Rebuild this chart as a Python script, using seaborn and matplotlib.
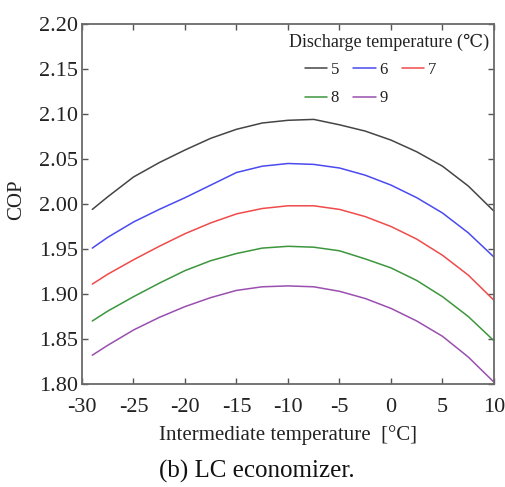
import numpy as np
import pandas as pd
import matplotlib
matplotlib.use("Agg")
import matplotlib.pyplot as plt
import seaborn as sns

# Data
x_vals = [-29, -27.5, -25, -22.5, -20, -17.5, -15, -12.5, -10, -7.5, -5, -2.5, 0, 2.5, 5, 7.5, 10]
cop_5 = [1.994, 2.008, 2.030, 2.046, 2.060, 2.073, 2.083, 2.090, 2.093, 2.094, 2.088, 2.081, 2.071, 2.058, 2.042, 2.020, 1.992]
cop_6 = [1.951, 1.963, 1.980, 1.994, 2.007, 2.021, 2.035, 2.042, 2.045, 2.044, 2.040, 2.032, 2.021, 2.007, 1.990, 1.968, 1.941]
cop_7 = [1.911, 1.922, 1.938, 1.953, 1.967, 1.979, 1.989, 1.995, 1.998, 1.998, 1.994, 1.986, 1.975, 1.961, 1.943, 1.921, 1.893]
cop_8 = [1.870, 1.881, 1.897, 1.912, 1.926, 1.937, 1.945, 1.951, 1.953, 1.952, 1.948, 1.939, 1.929, 1.915, 1.897, 1.875, 1.848]
cop_9 = [1.832, 1.843, 1.860, 1.874, 1.886, 1.896, 1.904, 1.908, 1.909, 1.908, 1.903, 1.895, 1.884, 1.870, 1.853, 1.830, 1.802]
series_labels = ["5", "6", "7", "8", "9"]
colors = ["#454545", "#4a4af0", "#f04a4a", "#3c963c", "#9a4fb0"]
x_ticks = [-30, -25, -20, -15, -10, -5, 0, 5, 10]
y_ticks = [1.80, 1.85, 1.90, 1.95, 2.00, 2.05, 2.10, 2.15, 2.20]

rows = []
for lab, ys in zip(series_labels, [cop_5, cop_6, cop_7, cop_8, cop_9]):
    for xv, yv in zip(x_vals, ys):
        rows.append({"T": xv, "COP": yv, "Discharge": lab})
df = pd.DataFrame(rows)

sns.set_theme(style="ticks")
plt.rcParams['font.family'] = ['Liberation Serif', 'DejaVu Serif']

W, H = 506, 487
fig = plt.figure(figsize=(W/100, H/100), dpi=100)
ax = fig.add_axes([82/W, 1-384/H, (494-82)/W, (384-24)/H])

sns.lineplot(data=df, x="T", y="COP", hue="Discharge", hue_order=series_labels,
             palette=dict(zip(series_labels, colors)), ax=ax, linewidth=1.1,
             legend=False, sort=False)

ax.set_xlim(-30, 10)
ax.set_ylim(1.80, 2.20)
ax.set_xticks(x_ticks)
ax.set_xticklabels([str(t) for t in x_ticks])
ax.set_yticks(y_ticks)
ax.set_yticklabels([f"{t:.2f}" for t in y_ticks])
ax.tick_params(direction="in", top=True, right=True, length=4, width=1,
               labelsize=16, colors="#555555", labelcolor="#222222")
ax.tick_params(axis="x", pad=10)
ax.tick_params(axis="y", pad=3)
for s in ax.spines.values():
    s.set_color("#6a6a6a")
    s.set_linewidth(1.3)

ax.set_xlabel("Intermediate temperature  [°C]", fontsize=15, color="#222222", labelpad=6)
ax.set_ylabel("COP", fontsize=15, color="#222222")
ax.yaxis.set_label_coords((26-82)/412, (384-200)/360)

handles = ax.get_lines()[:5]
order = [0, 3, 1, 4, 2]
leg = ax.legend([handles[i] for i in order], [series_labels[i] for i in order],
                ncol=3, loc="upper left",
                bbox_to_anchor=(305/W, 1-62/H), bbox_transform=fig.transFigure,
                frameon=False, fontsize=12,
                handlelength=1.35, handletextpad=0.2,
                columnspacing=0.85, labelspacing=0.75, borderpad=0, borderaxespad=0)
for t in leg.get_texts():
    t.set_color("#222222")

fig.text(389/W, 1-42/H, "Discharge temperature (\u2103)", ha="center", va="center",
         fontsize=13, color="#222222")

fig.text(257/W, 1-471/H, "(b) LC economizer.", ha="center", va="center",
         fontsize=18, color="#111111")

fig.savefig("out.png", dpi=100)
